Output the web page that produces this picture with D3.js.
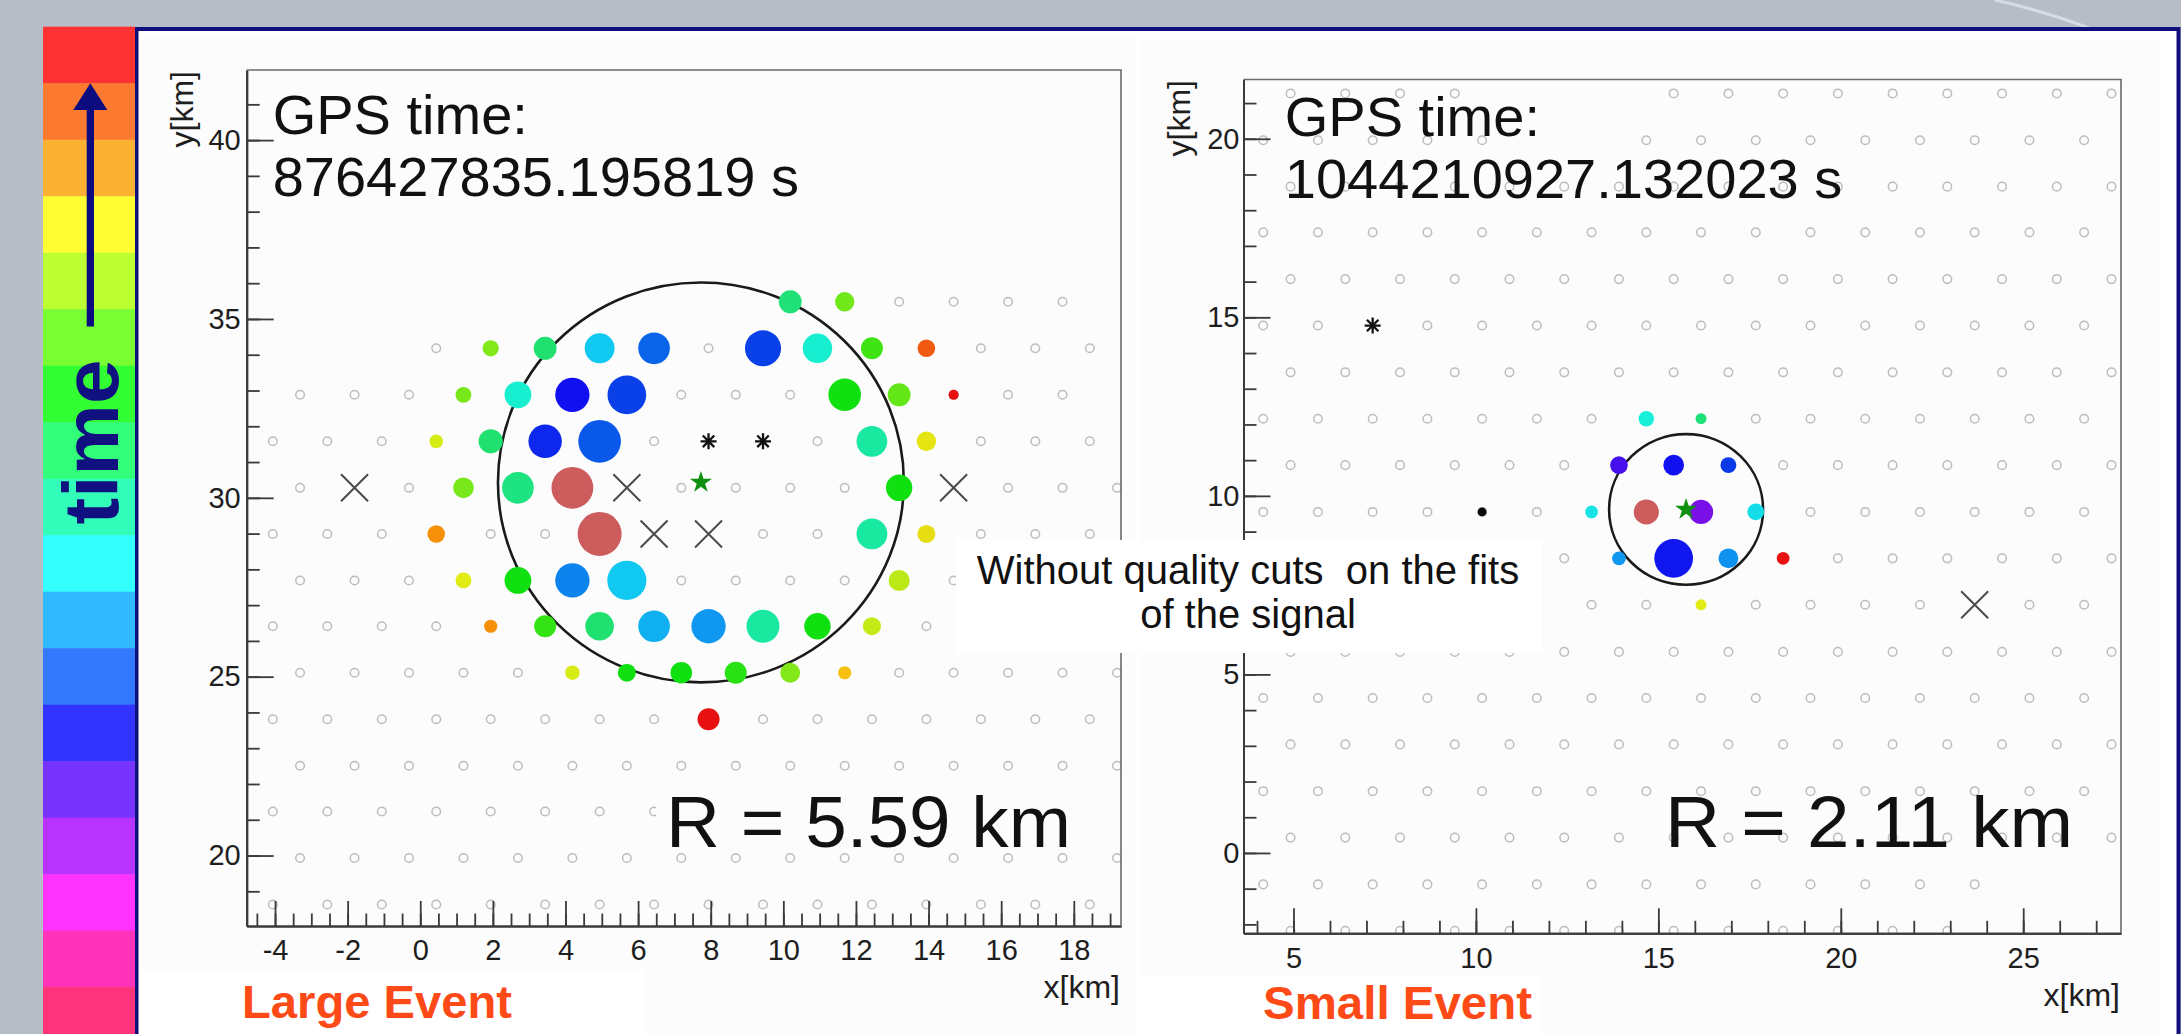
<!DOCTYPE html>
<html>
<head>
<meta charset="utf-8">
<script src="https://cdn.jsdelivr.net/npm/d3@7"></script>
<style>
  body { margin: 0; background: #b7bdc6; }
  svg { display: block; }
  text { font-family: "Liberation Sans", Arial, sans-serif; }
</style>
</head>
<body>
<svg id="chart" width="2181" height="1034"></svg>
<script>
//Data
// time colour bar, top (latest) to bottom
const timeBandColors = ['#fe3232', '#fb7a2f', '#fcb133', '#fefe33', '#bdfe33', '#79fe33', '#33fe33', '#33fe79', '#33feb9',
    '#33fefe', '#33b9fe', '#3379fe', '#3333fe', '#7933fe', '#b933fe', '#fe33fe', '#fe33b9', '#fe3379'];

// hit colour = arrival time (0 = first, 100 = last)
const timeStops = [0, 8, 16, 24, 30, 36, 42, 50, 56, 62, 70, 76, 82, 88, 92, 96, 100];
const timeStopColors = ['#7a10e8', '#1010f0', '#0a40e8', '#0a70ea', '#1098f0', '#10c8f0', '#18f0e0', '#18e8a0', '#20e070',
    '#10e010', '#70e81a', '#a8e81a', '#e0ec14', '#f5c010', '#f59008', '#f05a10', '#e81010'];

// ---- Large event ----
const lgRowsY = [35.48, 34.18, 32.88, 31.58, 30.28, 28.99, 27.69, 26.41, 25.11, 23.81, 22.51, 21.23, 19.93, 18.63];
const lgRowType = ['e', 'o', 'e', 'o', 'e', 'o', 'e', 'o', 'e', 'o', 'e', 'o', 'e', 'o'];
const lgRowFrom = [10.19, 0.44, -3.31, -4.06, -3.31, -4.06, -3.31, -4.06, -3.31, -4.06, -3.31, -4.06, -3.31, -4.06];
const lgRowTo = [17.69, 18.44, 17.69, 18.44, 19.19, 18.44, 19.19, 18.44, 19.19, 18.44, 19.19, 18.44, 19.19, 18.44];
const lgColsEven = [-3.31, -1.81, -0.31, 1.19, 2.69, 4.19, 5.69, 7.19, 8.69, 10.19, 11.69, 13.19, 14.69, 16.19, 17.69, 19.19];
const lgColsOdd = [-4.06, -2.56, -1.06, 0.44, 1.94, 3.44, 4.94, 6.44, 7.94, 9.44, 10.94, 12.44, 13.94, 15.44, 16.94, 18.44];

const lgHitX = [10.19, 11.69,
    1.94, 3.44, 4.94, 6.44, 9.44, 10.94, 12.44, 13.94,
    1.19, 2.69, 4.19, 5.69, 11.69, 13.19, 14.69,
    0.44, 1.94, 3.44, 4.94, 12.44, 13.94,
    1.19, 2.69, 13.19,
    0.44, 12.44, 13.94,
    1.19, 2.69, 4.19, 5.69, 13.19,
    1.94, 3.44, 4.94, 6.44, 7.94, 9.44, 10.94, 12.44,
    4.19, 5.69, 7.19, 8.69, 10.19, 11.69,
    7.94];
const lgHitY = [35.48, 35.48,
    34.18, 34.18, 34.18, 34.18, 34.18, 34.18, 34.18, 34.18,
    32.88, 32.88, 32.88, 32.88, 32.88, 32.88, 32.88,
    31.58, 31.58, 31.58, 31.58, 31.58, 31.58,
    30.28, 30.28, 30.28,
    28.99, 28.99, 28.99,
    27.69, 27.69, 27.69, 27.69, 27.69,
    26.41, 26.41, 26.41, 26.41, 26.41, 26.41, 26.41, 26.41,
    25.11, 25.11, 25.11, 25.11, 25.11, 25.11,
    23.81];
const lgHitTime = [55, 70,
    72, 56, 36, 22, 16, 44, 66, 96,
    71, 44, 8, 16, 62, 69, 100,
    81, 56, 12, 20, 50, 83,
    71, 54, 62,
    92, 50, 84,
    82, 62, 27, 36, 78,
    92, 65, 56, 33, 30, 50, 62, 79,
    81, 62, 62, 64, 72, 88,
    100];
const lgHitSize = [5.2, 4.4,
    3.7, 5.2, 6.8, 7.2, 8.2, 6.7, 5.0, 4.0,
    3.6, 6.1, 7.8, 8.8, 7.4, 5.2, 2.3,
    3.1, 5.5, 7.6, 9.7, 7.0, 4.4,
    4.7, 7.2, 6.0,
    4.0, 7.0, 4.1,
    3.6, 6.1, 7.8, 8.9, 4.8,
    3.0, 5.0, 6.5, 7.2, 7.8, 7.5, 6.0, 4.1,
    3.3, 4.1, 4.9, 5.0, 4.5, 3.0,
    5.0];
const lgSatX = [4.19, 4.94];
const lgSatY = [30.28, 28.99];
const lgSatSize = [9.5, 10.0];
const lgCrossX = [-1.81, 5.69, 14.69, 6.44, 7.94];
const lgCrossY = [30.28, 30.28, 30.28, 28.99, 28.99];
const lgAstX = [7.94, 9.44];
const lgAstY = [31.58, 31.58];
const lgCore = [7.73, 30.43];
const lgRadius = 5.59;
const lgXTicks = [-4, -2, 0, 2, 4, 6, 8, 10, 12, 14, 16, 18];
const lgYTicks = [20, 25, 30, 35, 40];

// ---- Small event ----
const smRowsY = [21.27, 19.96, 18.66, 17.38, 16.07, 14.77, 13.46, 12.16, 10.86, 9.55, 8.25, 6.95, 5.63, 4.34, 3.04, 1.73, 0.43, -0.88, -2.18];
const smRowType = ['o', 'e', 'o', 'e', 'o', 'e', 'o', 'e', 'o', 'e', 'o', 'e', 'o', 'e', 'o', 'e', 'o', 'e', 'o'];
const smRowFrom = [4.92, 4.17, 4.92, 4.17, 4.92, 4.17, 4.92, 4.17, 4.92, 4.17, 4.92, 4.17, 4.92, 4.17, 4.92, 4.17, 4.92, 4.17, 4.92];
const smRowTo = [27.42, 26.67, 27.42, 26.67, 27.42, 26.67, 27.42, 26.67, 27.42, 26.67, 27.42, 26.67, 27.42, 26.67, 27.42, 26.67, 27.42, 23.67, 22.92];
const smColsEven = [4.17, 5.67, 7.17, 8.67, 10.17, 11.67, 13.17, 14.67, 16.17, 17.67, 19.17, 20.67, 22.17, 23.67, 25.17, 26.67];
const smColsOdd = [4.92, 6.42, 7.92, 9.42, 10.92, 12.42, 13.92, 15.42, 16.92, 18.42, 19.92, 21.42, 22.92, 24.42, 25.92, 27.42];
const smMissingX = [10.92, 12.42, 13.92, 11.67, 13.17];
const smMissingY = [21.27, 21.27, 21.27, 19.96, 19.96];

const smHitX = [14.67, 16.17, 13.92, 15.42, 16.92, 13.17, 16.17, 17.67, 13.92, 15.42, 16.92, 18.42, 16.17];
const smHitY = [12.16, 12.16, 10.86, 10.86, 10.86, 9.55, 9.55, 9.55, 8.25, 8.25, 8.25, 8.25, 6.95];
const smHitTime = [43, 55, 4, 8, 15, 40, 0, 39, 30, 9, 29, 100, 82];
const smHitSize = [3.5, 2.5, 4.0, 4.7, 3.6, 2.9, 5.5, 3.8, 3.1, 8.8, 4.5, 2.9, 2.5];
const smSatX = [14.67];
const smSatY = [9.55];
const smSatSize = [5.7];
const smSilentX = [10.17];
const smSilentY = [9.55];
const smSilentSize = [2.0];
const smCrossX = [23.67];
const smCrossY = [6.95];
const smAstX = [7.17];
const smAstY = [14.77];
const smCore = [15.76, 9.62];
const smRadius = 2.11;
const smXTicks = [5, 10, 15, 20, 25];
const smYTicks = [0, 5, 10, 15, 20];

//Scales shared by both panels
const timeColor = d3.scaleLinear().domain(timeStops).range(timeStopColors).interpolate(d3.interpolateRgb);
const sizeScale = d3.scaleLinear().domain([0, 10]).range([0, 22]);

const svg = d3.select('#chart');
const zip = (xs, ys, vs) => xs.map((x, i) => ({ x: x, y: ys[i], v: vs ? vs[i] : null }));

// marker paths
const crossPath = s => `M${-s},${-s}L${s},${s}M${-s},${s}L${s},${-s}`;
const astPath = s => `M0,${-s}V${s}M${-s},0H${s}M${-s * 0.72},${-s * 0.72}L${s * 0.72},${s * 0.72}M${-s * 0.72},${s * 0.72}L${s * 0.72},${-s * 0.72}`;

//Background, slide panel and time colour bar
svg.append('rect').attr('width', 2181).attr('height', 1034).attr('fill', '#b7bdc6');
svg.append('path').attr('d', 'M1995,0 Q2048,12 2094,30')
    .attr('fill', 'none').attr('stroke', '#e4e8ee').attr('stroke-width', 3).attr('opacity', 0.7);
svg.append('rect').attr('x', 136.5).attr('y', 29).attr('width', 2042).attr('height', 1030)
    .attr('fill', '#ffffff').attr('stroke', '#10107c').attr('stroke-width', 4);

const bandY = d3.scaleBand().domain(d3.range(timeBandColors.length)).range([26.7, 26.7 + 56.5 * timeBandColors.length]);
svg.append('g').selectAll('rect').data(timeBandColors).join('rect')
    .attr('x', 43).attr('y', (d, i) => bandY(i)).attr('width', 92).attr('height', bandY.bandwidth() + 0.5)
    .attr('fill', d => d);

// time arrow
svg.append('rect').attr('x', 86.7).attr('y', 108).attr('width', 7.3).attr('height', 218.5).attr('fill', '#0c0c80');
svg.append('path').attr('d', 'M90.3,83.3L107.3,110L73.3,110Z').attr('fill', '#0c0c80');
svg.append('text').attr('transform', 'translate(118,442) rotate(-90)')
    .attr('text-anchor', 'middle').attr('font-size', 78).attr('font-weight', 'bold')
    .attr('textLength', 165).attr('lengthAdjust', 'spacingAndGlyphs')
    .attr('fill', '#101080').text('time');

//Panels
function drawPanel(p) {
    const x = d3.scaleLinear(p.xDom, [p.left, p.right]);
    const y = d3.scaleLinear(p.yDom, [p.bottom, p.top]);
    const g = svg.append('g');

    // image background + white label box
    g.append('rect').attr('x', p.bg[0]).attr('y', p.bg[1]).attr('width', p.bg[2]).attr('height', p.bg[3]).attr('fill', '#fcfcfc');
    g.append('rect').attr('x', p.labelBox[0]).attr('y', p.labelBox[1]).attr('width', p.labelBox[2]).attr('height', p.labelBox[3]).attr('fill', '#ffffff');

    svg.append('clipPath').attr('id', 'clip-' + p.id).append('rect')
        .attr('x', p.left).attr('y', p.top).attr('width', p.right - p.left).attr('height', p.bottom - p.top);
    const plot = g.append('g').attr('clip-path', `url(#clip-${p.id})`);

    // detector grid
    const stations = [];
    p.rowsY.forEach((ry, i) => {
        const cols = p.rowType[i] === 'e' ? p.colsEven : p.colsOdd;
        cols.filter(cx => cx >= p.rowFrom[i] - 0.01 && cx <= p.rowTo[i] + 0.01)
            .forEach(cx => stations.push({ x: cx, y: ry }));
    });
    const blocked = p.missing.concat(p.crosses, p.asterisks);
    const free = stations.filter(s => !blocked.some(b => Math.abs(b.x - s.x) < 0.3 && Math.abs(b.y - s.y) < 0.3));
    plot.append('g').selectAll('circle').data(free).join('circle')
        .attr('cx', d => x(d.x)).attr('cy', d => y(d.y)).attr('r', 4.3)
        .attr('fill', 'none').attr('stroke', '#bdbdbd').attr('stroke-width', 1.5);

    // axes (ticks pointing inward)
    const styleAxis = sel => {
        sel.selectAll('path.domain').attr('stroke', '#3a3a3a').attr('stroke-width', 2);
        sel.selectAll('.tick line').attr('stroke', '#3a3a3a').attr('stroke-width', 1.8);
        sel.selectAll('.tick text').attr('fill', '#1e1e1e').attr('font-size', 29)
            .attr('font-family', '"Liberation Sans", Arial, sans-serif');
    };
    g.append('g').attr('transform', `translate(${p.left},0)`)
        .call(d3.axisLeft(y).tickValues(p.yMinor).tickSize(-13).tickSizeOuter(0).tickFormat('')).call(styleAxis);
    g.append('g').attr('transform', `translate(${p.left},0)`)
        .call(d3.axisLeft(y).tickValues(p.yTicks).tickSize(-27).tickSizeOuter(0).tickPadding(p.yPad).tickFormat(d => String(d)))
        .call(styleAxis);
    g.append('g').attr('transform', `translate(0,${p.bottom})`)
        .call(d3.axisBottom(x).tickValues(p.xMinor).tickSize(-12.5).tickSizeOuter(0).tickFormat('')).call(styleAxis);
    g.append('g').attr('transform', `translate(0,${p.bottom})`)
        .call(d3.axisBottom(x).tickValues(p.xTicks).tickSize(-25).tickSizeOuter(0).tickPadding(p.xPad).tickFormat(d => String(d)))
        .call(styleAxis);
    g.append('path').attr('d', `M${p.left},${p.top}H${p.right}V${p.bottom}`)
        .attr('fill', 'none').attr('stroke', '#6a6a6a').attr('stroke-width', 1.6);

    // axis titles
    g.append('text').attr('transform', `translate(${p.yTitle[0]},${p.yTitle[1]}) rotate(-90)`)
        .attr('text-anchor', 'end').attr('font-size', 32).attr('fill', '#1e1e1e').text('y[km]');
    g.append('text').attr('x', p.right - 1).attr('y', p.xTitleY)
        .attr('text-anchor', 'end').attr('font-size', 32).attr('fill', '#1e1e1e').text('x[km]');

    // fitted shower size circle
    plot.append('ellipse')
        .attr('cx', x(p.core[0])).attr('cy', y(p.core[1]))
        .attr('rx', x(p.core[0] + p.radius) - x(p.core[0])).attr('ry', y(p.core[1]) - y(p.core[1] + p.radius))
        .attr('fill', 'none').attr('stroke', '#1a1a1a').attr('stroke-width', 2.6);

    // triggered stations
    plot.append('g').selectAll('circle').data(p.hits).join('circle')
        .attr('cx', d => x(d.x)).attr('cy', d => y(d.y)).attr('r', d => sizeScale(d.v.size))
        .attr('fill', d => timeColor(d.v.time));
    plot.append('g').selectAll('circle').data(p.saturated).join('circle')
        .attr('cx', d => x(d.x)).attr('cy', d => y(d.y)).attr('r', d => sizeScale(d.v))
        .attr('fill', '#cd5c5c');
    plot.append('g').selectAll('circle').data(p.silent).join('circle')
        .attr('cx', d => x(d.x)).attr('cy', d => y(d.y)).attr('r', d => sizeScale(d.v))
        .attr('fill', '#0a0a0a');
    plot.append('g').selectAll('path').data(p.crosses).join('path')
        .attr('transform', d => `translate(${x(d.x)},${y(d.y)})`).attr('d', crossPath(13.5))
        .attr('stroke', '#4a4a4a').attr('stroke-width', 2).attr('fill', 'none');
    plot.append('g').selectAll('path').data(p.asterisks).join('path')
        .attr('transform', d => `translate(${x(d.x)},${y(d.y)})`).attr('d', astPath(8))
        .attr('stroke', '#111').attr('stroke-width', 2.3).attr('fill', 'none');
    plot.append('path')
        .attr('transform', `translate(${x(p.core[0])},${y(p.core[1])})`)
        .attr('d', d3.symbol(d3.symbolStar, 150)())
        .attr('fill', '#109010');

    // annotations
    if (p.rBox) {
        g.append('rect').attr('x', p.rBox[0]).attr('y', p.rBox[1]).attr('width', p.rBox[2]).attr('height', p.rBox[3]).attr('fill', '#fcfcfc');
    }
    g.append('text').attr('x', p.gpsX).attr('y', p.gpsY[0]).attr('font-size', 56).attr('fill', '#111').text('GPS time:');
    g.append('text').attr('x', p.gpsX).attr('y', p.gpsY[1]).attr('font-size', 56).attr('fill', '#111').text(p.gps);
    g.append('text').attr('x', p.rX).attr('y', 847).attr('font-size', 73).attr('fill', '#111')
        .attr('textLength', p.rLen).attr('lengthAdjust', 'spacingAndGlyphs').text(`R = ${p.radius.toFixed(2)} km`);
    g.append('text').attr('x', p.label[0]).attr('y', p.label[1]).attr('font-size', 46).attr('font-weight', 'bold')
        .attr('fill', '#fe4a16').attr('textLength', p.label[2]).attr('lengthAdjust', 'spacingAndGlyphs').text(p.labelText);
}

drawPanel({
    id: 'large', left: 246.7, right: 1121, top: 70, bottom: 926,
    xDom: [-4.78, 19.30], yDom: [18.03, 41.96],
    bg: [142, 34, 993, 1000], labelBox: [142, 971, 502, 63],
    rowsY: lgRowsY, rowType: lgRowType, rowFrom: lgRowFrom, rowTo: lgRowTo,
    colsEven: lgColsEven, colsOdd: lgColsOdd, missing: [],
    hits: lgHitX.map((v, i) => ({ x: v, y: lgHitY[i], v: { time: lgHitTime[i], size: lgHitSize[i] } })),
    saturated: zip(lgSatX, lgSatY, lgSatSize), silent: [],
    crosses: zip(lgCrossX, lgCrossY), asterisks: zip(lgAstX, lgAstY),
    core: lgCore, radius: lgRadius,
    xTicks: lgXTicks, yTicks: lgYTicks, xMinor: d3.range(-4.5, 19.01, 0.5), yMinor: d3.range(19, 42, 1),
    xPad: 13, yPad: 6, yTitle: [193, 71], xTitleY: 998,
    gpsX: 272.7, gpsY: [134.4, 196], gps: '876427835.195819 s',
    rX: 666, rLen: 405, rBox: [656, 782, 444, 68],
    label: [242, 1018, 270], labelText: 'Large Event'
});

drawPanel({
    id: 'small', left: 1243.5, right: 2121, top: 79.5, bottom: 933.3,
    xDom: [3.63, 27.68], yDom: [-2.25, 21.66],
    bg: [1140, 40, 1020, 994], labelBox: [1140, 975, 400, 59],
    rowsY: smRowsY, rowType: smRowType, rowFrom: smRowFrom, rowTo: smRowTo,
    colsEven: smColsEven, colsOdd: smColsOdd, missing: zip(smMissingX, smMissingY),
    hits: smHitX.map((v, i) => ({ x: v, y: smHitY[i], v: { time: smHitTime[i], size: smHitSize[i] } })),
    saturated: zip(smSatX, smSatY, smSatSize), silent: zip(smSilentX, smSilentY, smSilentSize),
    crosses: zip(smCrossX, smCrossY), asterisks: zip(smAstX, smAstY),
    core: smCore, radius: smRadius,
    xTicks: smXTicks, yTicks: smYTicks, xMinor: d3.range(4, 27.01, 1), yMinor: d3.range(-2, 21.01, 1),
    xPad: 14, yPad: 4, yTitle: [1190, 80], xTitleY: 1006,
    gpsX: 1284.8, gpsY: [136, 198.3], gps: '1044210927.132023 s',
    rX: 1665, rLen: 408, rBox: null,
    label: [1263, 1019, 269], labelText: 'Small Event'
});

//Note box across both panels
const note = svg.append('g');
note.append('rect').attr('x', 956).attr('y', 540).attr('width', 586).attr('height', 113).attr('fill', '#ffffff');
note.append('text').attr('x', 1248).attr('y', 584).attr('text-anchor', 'middle').attr('font-size', 40).attr('fill', '#111')
    .attr('xml:space', 'preserve').text('Without quality cuts  on the fits');
note.append('text').attr('x', 1248).attr('y', 628).attr('text-anchor', 'middle').attr('font-size', 40).attr('fill', '#111')
    .text('of the signal');
</script>
</body>
</html>
